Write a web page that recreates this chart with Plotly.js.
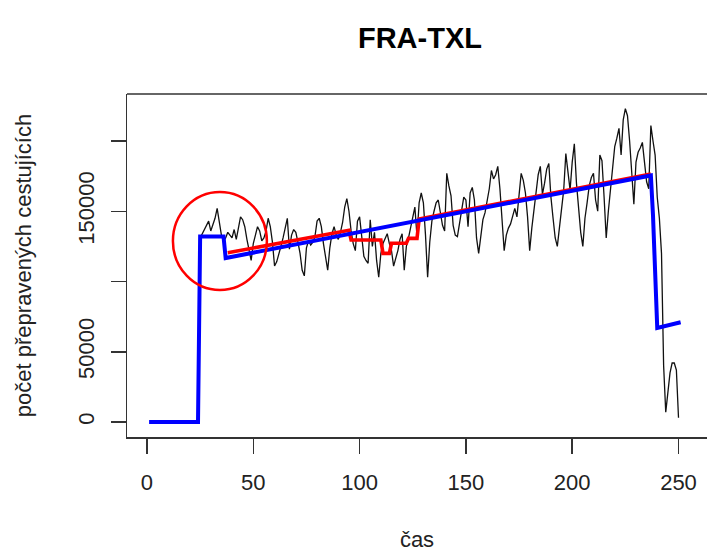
<!DOCTYPE html>
<html>
<head>
<meta charset="utf-8">
<script src="https://cdn.plot.ly/plotly-3.0.1.min.js"></script>
<style>html,body{margin:0;padding:0;background:#fff;}#chart{width:707px;height:552px;}</style>
</head>
<body>
<div id="chart"></div>
<script>
// observed passengers (x = month index starting at blackStart)
const blackStart = 25;
const passengers = [
  131000,134000,137000,139000,143000,136000,141000,145000,152000,143000,
  133000,129000,131000,135000,133000,131000,137000,130000,138000,146000,
  144000,139000,130000,123000,115000,127000,133000,139000,136000,129000,
  131000,136000,145000,139000,128000,111000,114000,119000,125000,131000,
  137000,145000,123000,133000,137000,135000,128000,120000,108000,104000,
  124000,129000,126000,128000,132000,143000,145000,139000,127000,118000,
  108000,124000,134000,139000,133000,130000,135000,142000,153000,159000,
  150000,136000,127000,122000,143000,146000,134000,118000,115000,113000,
  144000,125000,135000,115000,103000,120000,127000,130000,134000,127000,
  122000,111000,116000,122000,130000,134000,108000,125000,131000,138000,
  146000,153000,132000,156000,163000,156000,133000,103000,128000,143000,
  150000,156000,158000,148000,140000,136000,177000,168000,161000,140000,
  133000,132000,141000,149000,160000,158000,139000,163000,167000,158000,
  131000,120000,134000,144000,149000,158000,166000,179000,173000,176000,
  182000,166000,143000,122000,133000,138000,141000,146000,152000,146000,
  163000,177000,172000,163000,146000,122000,138000,152000,165000,176000,
  182000,162000,170000,180000,184000,160000,145000,131000,125000,140000,
  152000,165000,191000,178000,165000,185000,198000,170000,150000,135000,
  125000,145000,156000,168000,174000,177000,158000,150000,190000,186000,
  160000,131000,150000,165000,185000,196000,202000,209000,190000,215000,
  223000,218000,200000,173000,155000,185000,192000,195000,199000,185000,
  171000,166000,211000,200000,190000,160000,145000,120000,40000,7000,
  20000,35000,42000,42000,37000,3000
];
// fitted model (blue)
const blueX = [1, 24, 25, 36, 37, 237, 238, 239, 240, 251];
const blueY = [0, 0, 132000, 132000, 116700, 175500, 147000, 95000, 67000, 71000];
// intervention model (red)
const redX = [38, 95, 96, 110, 111, 114, 115, 122, 123, 127, 128, 237];
const redY = [120500, 136500, 129500, 129500, 120000, 120000, 127200, 127200, 130700, 130700, 144500, 176500];
// axis ticks
const xTicks = [0, 50, 100, 150, 200, 250];
const yTicks = [0, 50000, 100000, 150000, 200000];
const yTickText = ['0', '50000', '', '150000', ''];
// highlighted region (circle) in data units
const circleX = [12.2, 56.4];
const circleY = [93900, 163700];

const blackX = passengers.map((_, i) => blackStart + i);

const font = 'Liberation Sans, Arial, sans-serif';
const data = [
  {x: blackX, y: passengers, type: 'scatter', mode: 'lines',
   line: {color: '#111111', width: 1.3}, hoverinfo: 'skip'},
  {x: redX, y: redY, type: 'scatter', mode: 'lines',
   line: {color: '#ff0000', width: 3.6}, hoverinfo: 'skip'},
  {x: blueX, y: blueY, type: 'scatter', mode: 'lines',
   line: {color: '#0000ff', width: 4}, hoverinfo: 'skip'}
];

const layout = {
  width: 707, height: 552,
  margin: {l: 127, r: 0, t: 94, b: 115, pad: 0},
  paper_bgcolor: '#ffffff', plot_bgcolor: '#ffffff',
  showlegend: false,
  font: {family: font, size: 22, color: '#000'},
  title: {text: '<b>FRA-TXL</b>', font: {family: font, size: 29, color: '#000'},
          xref: 'container', x: 0.594, xanchor: 'center', yref: 'container', y: 0.931, yanchor: 'middle'},
  xaxis: {
    range: [-9.4, 263.4], tickvals: xTicks, ticktext: xTicks.map(String),
    showgrid: false, zeroline: false, showline: true, linecolor: '#333', linewidth: 1.5,
    ticks: 'outside', ticklen: 15, tickwidth: 1.5, tickcolor: '#333',
    ticklabelstandoff: 10,
    tickfont: {family: font, size: 22, color: '#222'},
    title: {text: 'čas', font: {family: font, size: 22, color: '#222'}, standoff: 39},
    automargin: false
  },
  yaxis: {
    range: [-10676, 233452], tickvals: yTicks, ticktext: yTickText,
    showgrid: false, zeroline: false, showline: true, linecolor: '#333', linewidth: 1.5,
    ticks: 'outside', ticklen: 15, tickwidth: 1.5, tickcolor: '#333', tickangle: -90,
    ticklabelstandoff: 8,
    tickfont: {family: font, size: 22, color: '#222'},
    title: {text: 'počet přepravených cestujících', font: {family: font, size: 22, color: '#222'}, standoff: 36},
    automargin: false
  },
  shapes: [
    {type: 'line', xref: 'paper', yref: 'paper', x0: 0, x1: 1, y0: 1, y1: 1,
     line: {color: '#333', width: 1.5}},
    {type: 'circle', xref: 'x', yref: 'y', x0: circleX[0], x1: circleX[1], y0: circleY[0], y1: circleY[1],
     line: {color: '#ff0000', width: 2.5}}
  ]
};

Plotly.newPlot('chart', data, layout, {displayModeBar: false, staticPlot: true});
</script>
</body>
</html>
